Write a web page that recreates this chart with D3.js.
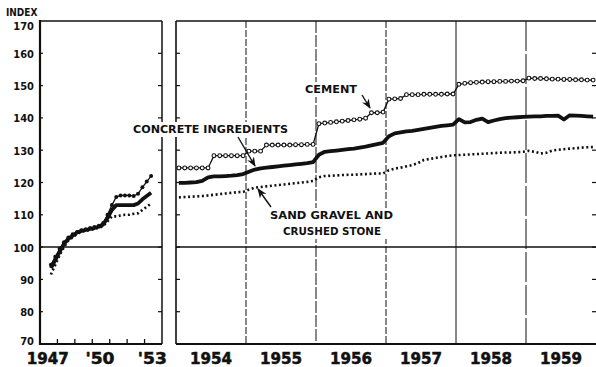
<!DOCTYPE html>
<html><head><meta charset="utf-8">
<script src="https://cdn.jsdelivr.net/npm/d3@7"></script>
<style>
body{margin:0;background:#fff;}
svg{display:block;}
text{font-family:"DejaVu Sans Condensed","DejaVu Sans",sans-serif;font-weight:bold;fill:#111;}
text.note{font-family:"DejaVu Sans",sans-serif;}
text.year{stroke:#111;stroke-width:0.5;}
</style></head><body>
<svg id="chart" width="596" height="367"></svg>
<script>
// Price indexes, 1947-49 = 100

// Early period: quarterly, 1947 Q3 - 1953 Q2
const earlyQuarters = ["1947 Q3","1947 Q4","1948 Q1","1948 Q2","1948 Q3","1948 Q4",
  "1949 Q1","1949 Q2","1949 Q3","1949 Q4","1950 Q1","1950 Q2","1950 Q3","1950 Q4",
  "1951 Q1","1951 Q2","1951 Q3","1951 Q4","1952 Q1","1952 Q2","1952 Q3","1952 Q4",
  "1953 Q1","1953 Q2"];
const earlyCement   = [94.5,97,99.5,101.5,103,104,104.7,105.2,105.5,105.9,106.2,106.6,107.5,110,113,115.5,116,116,116,115.8,116.5,118.5,120.3,122];
const earlyConcrete = [93.5,96,98.5,101,102.5,103.5,104.5,105,105.3,105.6,105.9,106.3,107,109,111.5,113,113,113,113,113,113.5,114.8,115.8,116.8];
const earlySand     = [91.5,94.5,97.5,100,102,103,104,104.8,105,105.3,105.6,106,106.5,108,109.5,109.5,109.8,110,110,110.3,110.5,111.5,112.5,113.5];

// Later period: monthly, January 1954 - December 1959
const lateYears = [1954,1955,1956,1957,1958,1959];
const lateCement = [
  124.5,124.5,124.5,124.5,124.5,124.5,128.3,128.3,128.3,128.3,128.3,128.3,
  129.7,129.7,129.7,131.6,131.6,131.6,131.6,131.6,131.7,131.7,131.8,131.8,
  138.2,138.4,138.6,138.8,139.0,139.2,139.4,139.6,139.9,141.6,141.6,141.8,
  145.8,145.9,146.0,147.2,147.2,147.2,147.3,147.3,147.3,147.3,147.4,147.4,
  150.4,150.7,150.9,151.0,151.1,151.2,151.2,151.3,151.3,151.4,151.4,151.5,
  152.3,152.2,152.2,152.1,152.0,152.0,151.9,151.9,151.8,151.8,151.7,151.7];
const lateConcrete = [
  119.9,119.9,120.0,120.1,120.5,121.6,121.9,121.9,122.0,122.1,122.3,122.6,
  123.3,124.0,124.4,124.6,124.8,125.0,125.2,125.4,125.6,125.8,126.0,126.3,
  128.6,129.5,129.7,129.9,130.1,130.3,130.5,130.8,131.1,131.5,131.9,132.3,
  134.3,135.2,135.5,135.8,136.0,136.3,136.6,136.9,137.2,137.5,137.7,137.9,
  139.6,138.6,138.7,139.4,139.8,138.7,139.2,139.6,139.9,140.1,140.2,140.3,
  140.4,140.5,140.5,140.6,140.6,140.7,139.5,140.8,140.7,140.6,140.5,140.4];
const lateSand = [
  115.4,115.5,115.6,115.7,115.8,116.0,116.2,116.4,116.6,116.8,117.0,117.1,
  117.8,118.4,118.6,118.8,119.0,119.2,119.4,119.6,119.8,120.0,120.2,120.5,
  121.6,122.0,122.1,122.2,122.3,122.4,122.4,122.5,122.6,122.7,122.8,122.8,
  123.8,124.3,124.6,125.0,125.4,126.0,127.0,127.3,127.6,127.9,128.2,128.4,
  128.5,128.6,128.7,128.8,128.9,129.0,129.1,129.2,129.3,129.3,129.4,129.5,
  129.8,129.5,129.0,129.2,129.9,130.1,130.3,130.5,130.6,130.8,130.9,131.0];

const yTicks = [70,80,90,100,110,120,130,140,150,160,170];
const earlyYearLabels = [{year:1947,label:"1947"},{year:1950,label:"'50"},{year:1953,label:"'53"}];
const lateYearLabels = ["1954","1955","1956","1957","1958","1959"];

// ---- layout ----
const svg = d3.select("#chart");
const plotTop = 21, plotBottom = 344;
const left = {x0:40, x1:162};
const right = {x0:176, x1:596};

const y = d3.scaleLinear().domain([70,170]).range([plotBottom, plotTop]);
const xEarly = d3.scaleLinear().domain([1947,1954]).range([left.x0, left.x1]);
const xLate = d3.scaleLinear().domain([1954,1960]).range([right.x0, right.x1]);

const quarterTime = s => { const [yr,q] = s.split(" Q"); return +yr + (+q - 0.5)/4; };
const early = earlyQuarters.map((q,i)=>({t:quarterTime(q), cement:earlyCement[i], concrete:earlyConcrete[i], sand:earlySand[i]}));
const late = lateCement.map((v,i)=>({t:lateYears[0] + (i+0.5)/12, cement:v, concrete:lateConcrete[i], sand:lateSand[i]}));

const ink = "#111";

// ---- frames ----
const frames = svg.append("g");
function rule(x1,y1,x2,y2,w,dash){
  return frames.append("line").attr("x1",x1).attr("y1",y1).attr("x2",x2).attr("y2",y2)
    .attr("stroke",ink).attr("stroke-width",w).attr("stroke-dasharray",dash||null);
}
// left panel
rule(left.x0,plotTop-1,left.x0,plotBottom+1,2.2);
rule(left.x0,plotBottom,left.x1,plotBottom,2);
rule(left.x0,plotTop,left.x1,plotTop,1.6);
rule(left.x1,plotTop,left.x1,plotBottom,1.5);
// right panel
rule(right.x0,plotTop,right.x0,plotBottom,1.6);
rule(right.x0,plotBottom,right.x1,plotBottom,2);
rule(right.x0,plotTop,right.x1,plotTop,1.6);

// year dividers in the right panel
const dividerDash = {1955:"7,2",1956:"12,2",1957:"7,2",1958:null,1959:"30,3"};
lateYears.slice(1).forEach(yr=>rule(xLate(yr),plotTop,xLate(yr),plotBottom,1,dividerDash[yr]));

// y ticks
yTicks.forEach(v=>{
  if (v===70 || v===170) return;
  const yy = y(v);
  rule(left.x0,yy,left.x0+3,yy,1.2);
  rule(left.x1-4,yy,left.x1,yy,1.2);
  rule(right.x0,yy,right.x0+4,yy,1.2);
  rule(right.x1-4,yy,right.x1,yy,1.2);
});
// x ticks on left panel (year boundaries)
d3.range(1948,1954).forEach(yr=>rule(xEarly(yr),plotBottom,xEarly(yr),plotBottom-5,1.3));

// base line at 100
rule(left.x0,y(100),left.x1,y(100),1.5);
rule(right.x0,y(100),right.x1,y(100),1.5);

// ---- axis labels ----
svg.append("text").attr("x",6).attr("y",16).attr("font-size",10).text("INDEX");
const labelShift = v => v===170 ? 8.5 : (v===70 ? 1 : 4.5);
yTicks.forEach(v=>{
  svg.append("text").attr("x",34).attr("y",y(v)+labelShift(v)).attr("text-anchor","end").attr("font-size",11).text(v);
});
function yearLabel(x, s){
  svg.append("text").attr("class","year").attr("x",x).attr("y",364).attr("text-anchor","middle")
    .attr("font-size",16).attr("textLength", s.length===4 ? 42 : 29).attr("lengthAdjust","spacingAndGlyphs").text(s);
}
earlyYearLabels.forEach(d=>yearLabel(xEarly(d.year+0.5)-1, d.label));
lateYearLabels.forEach((lab,i)=>yearLabel(xLate(lateYears[i]+0.5), lab));

// ---- series ----
function drawPanel(data, x){
  const g = svg.append("g");
  const line = key => d3.line().x(d=>x(d.t)).y(d=>y(d[key]))(data);
  g.append("path").attr("d",line("sand")).attr("fill","none").attr("stroke",ink)
    .attr("stroke-width",2.6).attr("stroke-dasharray","2,2.6");
  g.append("path").attr("d",line("concrete")).attr("fill","none").attr("stroke",ink)
    .attr("stroke-width",3.8).attr("stroke-linejoin","round");
  g.append("path").attr("d",line("cement")).attr("fill","none").attr("stroke",ink).attr("stroke-width",1.3);
  return g;
}
const gEarly = drawPanel(early, xEarly);
gEarly.selectAll("circle").data(early).join("circle")
  .attr("cx",d=>xEarly(d.t)).attr("cy",d=>y(d.cement)).attr("r",2).attr("fill",ink);
const gLate = drawPanel(late, xLate);
gLate.selectAll("circle").data(late).join("circle")
  .attr("cx",d=>xLate(d.t)).attr("cy",d=>y(d.cement)).attr("r",1.9)
  .attr("fill","#fff").attr("stroke",ink).attr("stroke-width",1.1);

// ---- annotations ----
svg.append("defs").append("marker").attr("id","head").attr("viewBox","0 0 10 10")
  .attr("refX",9).attr("refY",5).attr("markerWidth",7).attr("markerHeight",7).attr("orient","auto")
  .append("path").attr("d","M0,1 L10,5 L0,9 L3,5 Z").attr("fill",ink);

function label(lines, xs, widths, yy){
  const g = svg.append("g");
  const t = g.append("text").attr("class","note").attr("font-size",11);
  lines.forEach((s,i)=>t.append("tspan").attr("x",xs[i]).attr("y",yy+i*16)
    .attr("textLength",widths[i]).attr("lengthAdjust","spacingAndGlyphs").text(s));
  const b = t.node().getBBox();
  g.insert("rect","text").attr("x",b.x-2).attr("y",b.y-1).attr("width",b.width+4).attr("height",b.height+2).attr("fill","#fff");
}
function arrow(x1,y1,x2,y2){
  svg.append("line").attr("x1",x1).attr("y1",y1).attr("x2",x2).attr("y2",y2)
    .attr("stroke",ink).attr("stroke-width",1.4).attr("marker-end","url(#head)");
}
label(["CEMENT"],[305],[52],93);
arrow(362,95,370,108);
label(["CONCRETE INGREDIENTS"],[133],[155],133);
arrow(238,137,255,166);
label(["SAND GRAVEL AND","CRUSHED STONE"],[270,283],[123,98],219);
arrow(271,207,258,189);
</script>
</body></html>
